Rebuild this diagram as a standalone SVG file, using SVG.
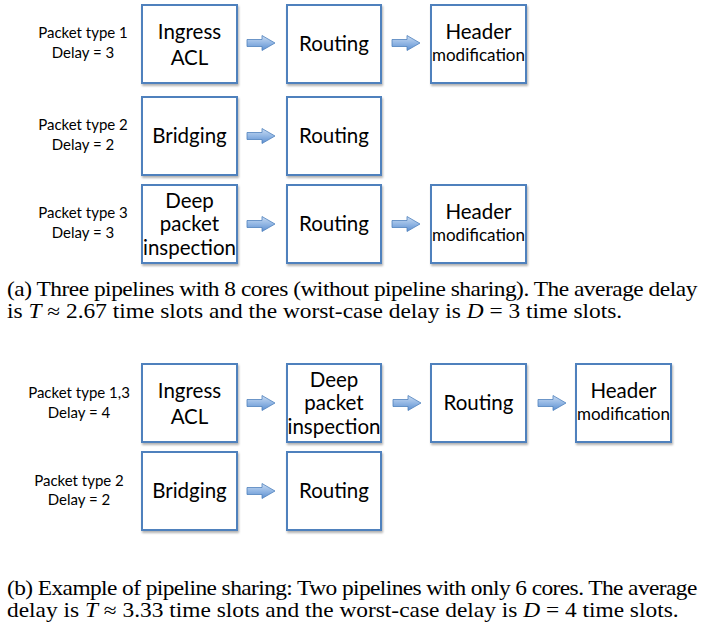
<svg xmlns="http://www.w3.org/2000/svg" width="715" height="624" viewBox="0 0 715 624">
  <defs>
    <filter id="shadow" x="-10%" y="-10%" width="125%" height="125%">
      <feDropShadow dx="1" dy="2" stdDeviation="1.2" flood-color="#000" flood-opacity="0.3"/>
    </filter>
    <linearGradient id="arrowFill" x1="0" y1="0" x2="0" y2="1">
      <stop offset="0" stop-color="#c9dbf2"/>
      <stop offset="0.5" stop-color="#93b7e4"/>
      <stop offset="1" stop-color="#5d8fd0"/>
    </linearGradient>
    <path id="arrow" d="M0,-3.5 H15 V-7.5 L28,0 L15,7.5 V3.5 H0 Z" fill="url(#arrowFill)" stroke="#4f81bd" stroke-width="0.8"/>
  </defs>
  <style>
    .box { fill: #ffffff; stroke: #4f81bd; stroke-width: 2; filter: url(#shadow); }
    .lbl { font-family: Lato, "Open Sans", sans-serif; font-size: 15px; fill: #000; text-anchor: middle; }
    .txt { font-family: Lato, "Open Sans", sans-serif; font-size: 20.5px; fill: #000; text-anchor: middle; }
    .sm { font-family: Lato, "Open Sans", sans-serif; font-size: 17px; fill: #000; text-anchor: middle; }
    .cap { font-family: "Liberation Serif", "Times New Roman", serif; font-size: 20px; fill: #000; }
    .it { font-style: italic; }
  </style>
  <rect width="715" height="624" fill="#ffffff"/>

  <!-- (a) pipeline 1 -->
  <g id="a1-label">
    <text class="lbl" x="83" y="38">Packet type 1</text>
    <text class="lbl" x="83" y="58">Delay = 3</text>
  </g>
  <g id="a1-ingress"><rect class="box" x="142" y="5" width="95" height="78"/>
    <text class="txt" x="189.5" y="39">Ingress</text><text class="txt" x="189.5" y="65">ACL</text></g>
  <g id="a1-routing"><rect class="box" x="287" y="5" width="94" height="78"/>
    <text class="txt" x="334" y="51">Routing</text></g>
  <g id="a1-header"><rect class="box" x="431" y="5" width="95" height="78"/>
    <text class="txt" x="478.5" y="39">Header</text><text class="sm" x="478.5" y="61">modification</text></g>

  <!-- (a) pipeline 2 -->
  <g id="a2-label">
    <text class="lbl" x="83" y="130">Packet type 2</text>
    <text class="lbl" x="83" y="150">Delay = 2</text>
  </g>
  <g id="a2-bridging"><rect class="box" x="142" y="97" width="95" height="78"/>
    <text class="txt" x="189.5" y="143">Bridging</text></g>
  <g id="a2-routing"><rect class="box" x="287" y="97" width="94" height="78"/>
    <text class="txt" x="334" y="143">Routing</text></g>

  <!-- (a) pipeline 3 -->
  <g id="a3-label">
    <text class="lbl" x="83" y="218">Packet type 3</text>
    <text class="lbl" x="83" y="238">Delay = 3</text>
  </g>
  <g id="a3-dpi"><rect class="box" x="142" y="185" width="95" height="78"/>
    <text class="txt" x="189.5" y="208">Deep</text><text class="txt" x="189.5" y="231">packet</text><text class="txt" x="189.5" y="255">inspection</text></g>
  <g id="a3-routing"><rect class="box" x="287" y="185" width="94" height="78"/>
    <text class="txt" x="334" y="231">Routing</text></g>
  <g id="a3-header"><rect class="box" x="431" y="185" width="95" height="78"/>
    <text class="txt" x="478.5" y="219">Header</text><text class="sm" x="478.5" y="241">modification</text></g>

  <!-- (b) shared pipeline for types 1 and 3 -->
  <g id="b1-label">
    <text class="lbl" x="79" y="398">Packet type 1,3</text>
    <text class="lbl" x="79" y="418">Delay = 4</text>
  </g>
  <g id="b1-ingress"><rect class="box" x="142" y="364" width="95" height="78"/>
    <text class="txt" x="189.5" y="398">Ingress</text><text class="txt" x="189.5" y="424">ACL</text></g>
  <g id="b1-dpi"><rect class="box" x="287" y="364" width="94" height="78"/>
    <text class="txt" x="334" y="387">Deep</text><text class="txt" x="334" y="410">packet</text><text class="txt" x="334" y="434">inspection</text></g>
  <g id="b1-routing"><rect class="box" x="431" y="364" width="95" height="78"/>
    <text class="txt" x="478.5" y="410">Routing</text></g>
  <g id="b1-header"><rect class="box" x="576" y="364" width="95" height="78"/>
    <text class="txt" x="623.5" y="398">Header</text><text class="sm" x="623.5" y="420">modification</text></g>

  <!-- (b) pipeline for type 2 -->
  <g id="b2-label">
    <text class="lbl" x="79" y="486">Packet type 2</text>
    <text class="lbl" x="79" y="505">Delay = 2</text>
  </g>
  <g id="b2-bridging"><rect class="box" x="142" y="452" width="95" height="78"/>
    <text class="txt" x="189.5" y="498">Bridging</text></g>
  <g id="b2-routing"><rect class="box" x="287" y="452" width="94" height="78"/>
    <text class="txt" x="334" y="498">Routing</text></g>

  <!-- block arrows between stages -->
  <g id="connectors">
    <use href="#arrow" x="247" y="43"/>
    <use href="#arrow" x="392" y="43"/>
    <use href="#arrow" x="247" y="136"/>
    <use href="#arrow" x="247" y="224"/>
    <use href="#arrow" x="392" y="224"/>
    <use href="#arrow" x="247" y="403"/>
    <use href="#arrow" x="393" y="403"/>
    <use href="#arrow" x="538" y="403"/>
    <use href="#arrow" x="247" y="491"/>
  </g>

  <!-- captions: widened serif; first line of each is justified to the full width -->
  <g id="caption-a" transform="scale(1.17,1)">
    <text class="cap" x="6" y="296" textLength="590" lengthAdjust="spacing">(a) Three pipelines with 8 cores (without pipeline sharing). The average delay</text>
    <text class="cap" x="6" y="318">is <tspan class="it">T</tspan> ≈ 2.67 time slots and the worst-case delay is <tspan class="it">D</tspan> = 3 time slots.</text>
  </g>
  <g id="caption-b" transform="scale(1.17,1)">
    <text class="cap" x="6" y="595" textLength="590" lengthAdjust="spacing">(b) Example of pipeline sharing: Two pipelines with only 6 cores. The average</text>
    <text class="cap" x="6" y="617">delay is <tspan class="it">T</tspan> ≈ 3.33 time slots and the worst-case delay is <tspan class="it">D</tspan> = 4 time slots.</text>
  </g>
</svg>
